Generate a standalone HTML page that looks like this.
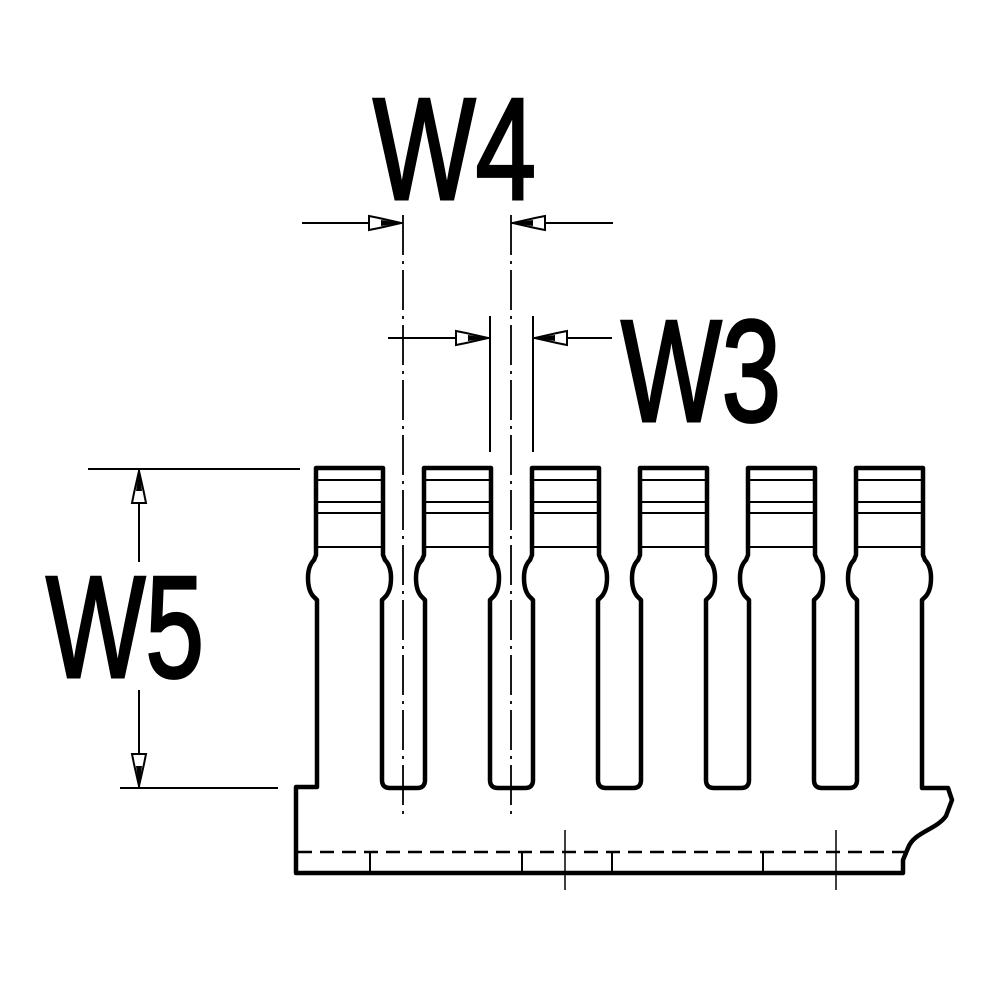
<!DOCTYPE html>
<html><head><meta charset="utf-8"><style>
html,body{margin:0;padding:0;background:#fff;width:1000px;height:1000px;overflow:hidden}
svg{display:block}
</style></head><body>
<svg width="1000" height="1000" viewBox="0 0 1000 1000" xmlns="http://www.w3.org/2000/svg">
<defs>
<g id="arr"><polygon points="0,0 -22,-5 -32,-7 -32,7 -22,5" fill="#fff" stroke="#000" stroke-width="2"/><polygon points="0,0 -20,-3 -20,3" fill="#000"/></g>
</defs>
<rect width="1000" height="1000" fill="#fff"/>
<g fill="none" stroke="#000" stroke-width="4.5" stroke-linejoin="round">
<path d="M296,873 L296,787 L317,787 L317,600 L313,596 Q308,590 308,578 Q308,566 314,560 L316,555 L316,468 L383,468 L383,555 L385,560 Q391,566 391,578 Q391,590 386,596 L382,600 L382,780 Q382,788 390,788
L417,788 Q425,788 425,780 L425,600 L421,596 Q416,590 416,578 Q416,566 422,560 L424,555 L424,468 L491,468 L491,555 L493,560 Q499,566 499,578 Q499,590 494,596 L490,600 L490,780 Q490,788 498,788
L525,788 Q533,788 533,780 L533,600 L529,596 Q524,590 524,578 Q524,566 530,560 L532,555 L532,468 L599,468 L599,555 L601,560 Q607,566 607,578 Q607,590 602,596 L598,600 L598,780 Q598,788 606,788
L633,788 Q641,788 641,780 L641,600 L637,596 Q632,590 632,578 Q632,566 638,560 L640,555 L640,468 L707,468 L707,555 L709,560 Q715,566 715,578 Q715,590 710,596 L706,600 L706,780 Q706,788 714,788
L741,788 Q749,788 749,780 L749,600 L745,596 Q740,590 740,578 Q740,566 746,560 L748,555 L748,468 L815,468 L815,555 L817,560 Q823,566 823,578 Q823,590 818,596 L814,600 L814,780 Q814,788 822,788
L849,788 Q857,788 857,780 L857,600 L853,596 Q848,590 848,578 Q848,566 854,560 L856,555 L856,468 L923,468 L923,555 L925,560 Q931,566 931,578 Q931,590 926,596 L922,600 L922,788 L948,788 L952,800 L946,816 C936,830 914,832 908,848 L903,860 L903,873 Z"/>
</g>
<g stroke="#000" stroke-width="2">
<path d="M316,480H383M316,502H383M316,513H383M316,547H383
M424,480H491M424,502H491M424,513H491M424,547H491
M532,480H599M532,502H599M532,513H599M532,547H599
M640,480H707M640,502H707M640,513H707M640,547H707
M748,480H815M748,502H815M748,513H815M748,547H815
M856,480H923M856,502H923M856,513H923M856,547H923"/>
</g>
<line x1="298" y1="852" x2="905" y2="852" stroke="#000" stroke-width="2.5" stroke-dasharray="14,8"/>
<g stroke="#000" stroke-width="2">
<path d="M370,852V873M522,852V873M612,852V873M763,852V873"/>
<path d="M565,830V890M836,830V890" stroke-width="1.5"/>
</g>
<g stroke="#000" stroke-width="1.8" stroke-dasharray="40,6,3,6">
<line x1="403" y1="215" x2="403" y2="815"/>
<line x1="511" y1="215" x2="511" y2="815"/>
</g>
<g stroke="#000" stroke-width="2">
<line x1="490" y1="316" x2="490" y2="452"/>
<line x1="533" y1="316" x2="533" y2="452"/>
<line x1="302" y1="223" x2="403" y2="223"/>
<line x1="511" y1="223" x2="613" y2="223"/>
<line x1="388" y1="338" x2="490" y2="338"/>
<line x1="533" y1="338" x2="612" y2="338"/>
<line x1="88" y1="469" x2="300" y2="469"/>
<line x1="120" y1="788" x2="278" y2="788"/>
<line x1="139" y1="469" x2="139" y2="562"/>
<line x1="139" y1="690" x2="139" y2="788"/>
</g>
<use href="#arr" transform="translate(401,223)"/>
<use href="#arr" transform="translate(513,223) rotate(180)"/>
<use href="#arr" transform="translate(488,338)"/>
<use href="#arr" transform="translate(535,338) rotate(180)"/>
<use href="#arr" transform="translate(139,471) rotate(-90)"/>
<use href="#arr" transform="translate(139,786) rotate(90)"/>
<g font-family="Liberation Sans, Arial, sans-serif" font-weight="normal" font-size="145" fill="#000" stroke="#000" stroke-width="3">
<text x="373" y="199" textLength="163" lengthAdjust="spacingAndGlyphs">W4</text>
<text x="621" y="421" textLength="160" lengthAdjust="spacingAndGlyphs">W3</text>
<text x="46" y="677" textLength="158" lengthAdjust="spacingAndGlyphs">W5</text>
</g>
</svg>
</body></html>
